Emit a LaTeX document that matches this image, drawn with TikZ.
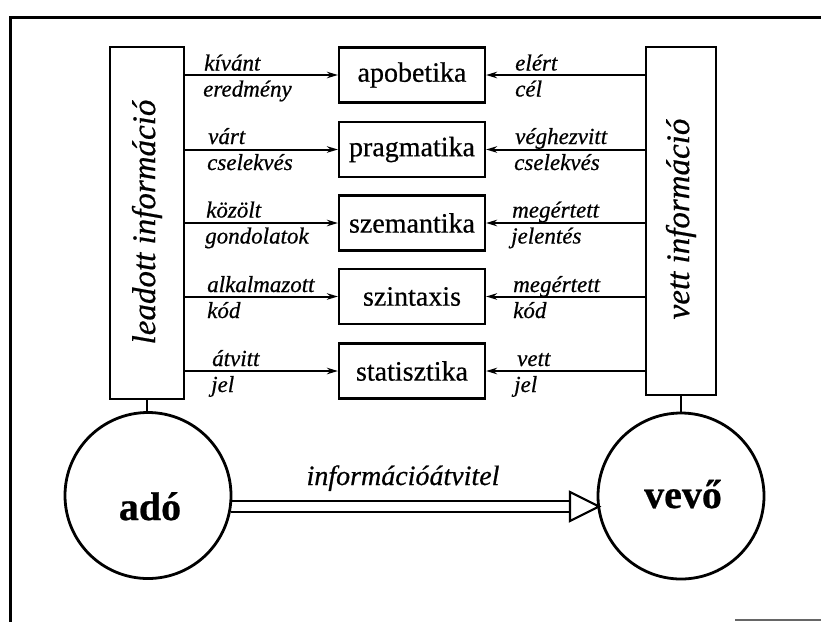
\documentclass[tikz,border=0pt]{standalone}
\usepackage{fontspec}
\setmainfont{Liberation Serif}[FakeBold=0.6]
\usetikzlibrary{arrows.meta,calc}

\begin{document}
\begin{tikzpicture}[x=1pt,y=-1pt,
  frameline/.style={line width=3pt},
  layerbox/.style={draw, line width=2.2pt, minimum width=146pt, minimum height=55pt,
    inner sep=0pt, font=\fontsize{28}{30}\selectfont},
  sidebox/.style={draw, line width=2.2pt, inner sep=0pt},
  sidetext/.style={rotate=90, inner sep=0pt, font=\fontsize{33}{35}\selectfont\itshape},
  flow/.style={line width=2pt, -{Stealth[length=11pt,width=6.5pt]}},
  lbl/.style={anchor=base west, inner sep=0pt, font=\fontsize{23}{25}\selectfont\itshape},
  party/.style={draw, circle, line width=2.8pt, minimum size=166pt, inner sep=0pt},
  partyname/.style={inner sep=0pt, anchor=base, font=\fontsize{40}{42}\selectfont\bfseries},
  stem/.style={line width=2.2pt}
]
\useasboundingbox (0,0) rectangle (821,622);

% outer frame
\draw[frameline] (821,17) -- (10,17) -- (10,622);
\draw[line width=2pt, black!60] (735,620) -- (821,620);

% side boxes
\node[sidebox, minimum width=74pt, minimum height=352pt] (lbox) at (147,223) {};
\node[sidetext] (ltext) at (147,222) {leadott információ};
\node[sidebox, minimum width=70pt, minimum height=348pt] (rbox) at (681,221) {};
\node[sidetext] (rtext) at (681,219) {vett információ};

% semiotic layers
\node[layerbox] (apo) at (412,75) {apobetika};
\node[layerbox] (pra) at (412,149.5) {pragmatika};
\node[layerbox] (sze) at (412,223) {szemantika};
\node[layerbox] (szi) at (412,296.5) {szintaxis};
\node[layerbox] (sta) at (412,371) {statisztika};

% arrows into the layers
\foreach \b in {apo,pra,sze,szi,sta}{
  \draw[flow] (lbox.east |- \b.west) -- (\b.west);
  \draw[flow] (rbox.west |- \b.east) -- (\b.east);
}

% sender side labels
\node[lbl] (l1a) at (204,70.5) {kívánt};
\node[lbl] (l1b) at (203,96.5) {eredmény};
\node[lbl] (l2a) at (208,144) {várt};
\node[lbl] (l2b) at (207,170) {cselekvés};
\node[lbl] (l3a) at (206,217.5) {közölt};
\node[lbl] (l3b) at (205,243.5) {gondolatok};
\node[lbl] (l4a) at (207,292) {alkalmazott};
\node[lbl] (l4b) at (207,318) {kód};
\node[lbl] (l5a) at (212,366) {átvitt};
\node[lbl] (l5b) at (211,392) {jel};

% receiver side labels
\node[lbl] (r1a) at (515,70.5) {elért};
\node[lbl] (r1b) at (515,96.5) {cél};
\node[lbl] (r2a) at (515,144) {véghezvitt};
\node[lbl] (r2b) at (514,170) {cselekvés};
\node[lbl] (r3a) at (512,217.5) {megértett};
\node[lbl] (r3b) at (511,243.5) {jelentés};
\node[lbl] (r4a) at (513,292) {megértett};
\node[lbl] (r4b) at (513,318) {kód};
\node[lbl] (r5a) at (517,366) {vett};
\node[lbl] (r5b) at (514,392) {jel};

% sender and receiver
\node[party] (ado) at (148,495.5) {};
\node[party] (vevo) at (681,496) {};
\node[partyname] (adot) at (150,520) {adó};
\node[partyname] (vevot) at (683,508) {vevő};
\draw[stem] (lbox.south) -- (lbox.south |- ado.north);
\draw[stem] (rbox.south) -- (rbox.south |- vevo.north);

% transmission channel: double line with hollow head
\coordinate (tip) at ($(vevo.center)+(-82,10.5)$);
\coordinate (base) at ($(tip)+(-29,0)$);
\draw[line width=2.4pt] ($(ado.center)+(83,5.5)$) -- ($(base)+(0,-5.5)$);
\draw[line width=2.4pt] ($(ado.center)+(83,16.5)$) -- ($(base)+(0,5.5)$);
\draw[line width=2.2pt, line join=miter] ($(base)+(0,-14.5)$) -- (tip) -- ($(base)+(0,14.5)$) -- cycle;
\node[inner sep=0pt, anchor=base, font=\fontsize{28}{30}\selectfont\itshape] (chan) at (403,485) {információátvitel};
\end{tikzpicture}
\end{document}
